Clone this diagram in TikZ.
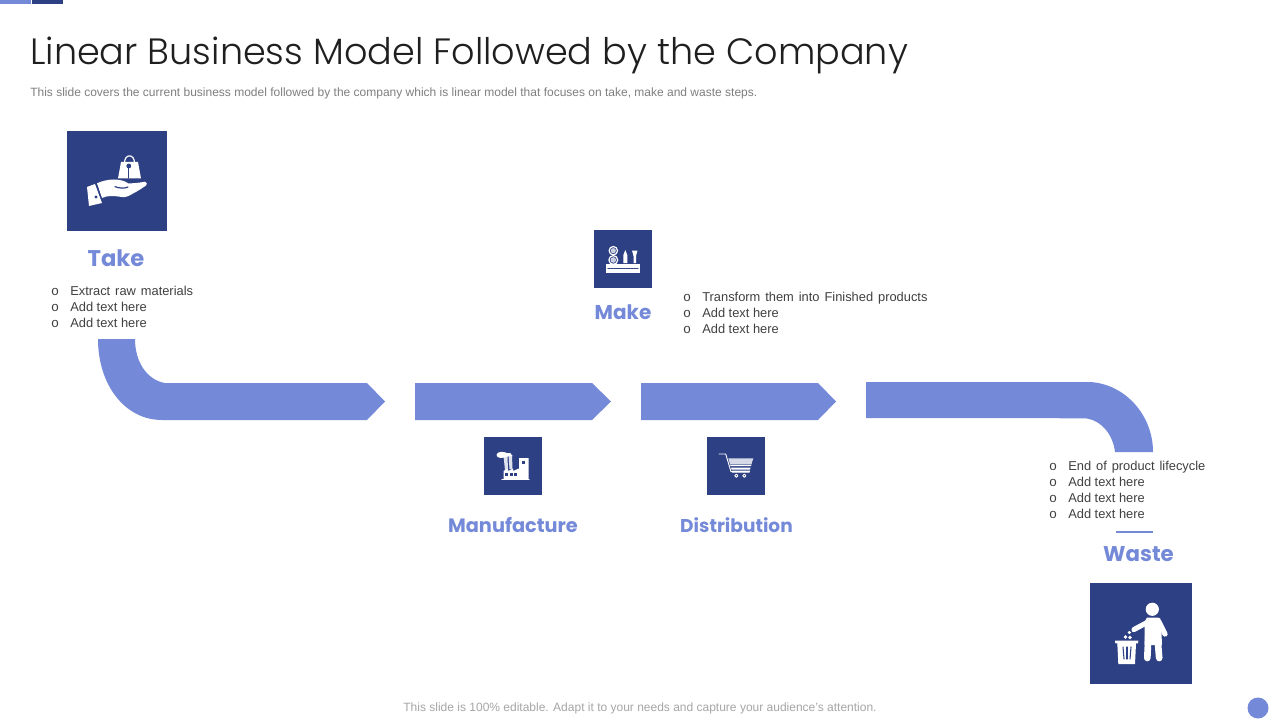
\documentclass[tikz,border=0pt]{standalone}
\usepackage{fontspec}
\setmainfont{Liberation Sans}
\newfontfamily\headfont{Poppins}
\newfontfamily\titlefont{Poppins Light}
\newfontfamily\bulfont{Liberation Mono}
\definecolor{lightb}{HTML}{748AD8}
\definecolor{darkb}{HTML}{2D4083}
\definecolor{bodyt}{HTML}{404040}
\definecolor{subt}{HTML}{7F7F7F}
\definecolor{foot}{HTML}{A6A6A6}
\newcommand{\widewords}[1]{\setlength{\spaceskip}{3.7pt}#1}
\tikzset{
 x=0.75pt,y=-0.75pt,
 band/.style={fill=lightb,draw=none},
 iconbox/.style={fill=darkb,draw=none},
 ico/.style={fill=white,draw=none},
 icoline/.style={draw=white,line cap=round,line join=round},
 cutline/.style={draw=darkb,line cap=round},
 heading/.style={anchor=base,inner sep=0pt,text=lightb},
 body/.style={anchor=base west,inner sep=0pt,text=bodyt,font=\fontsize{9.65pt}{11pt}\selectfont},
 bul/.style={anchor=base,inner sep=0pt,text=bodyt,font=\bulfont\fontsize{10pt}{11pt}\selectfont}
}
\begin{document}
\begin{tikzpicture}
\useasboundingbox (0,0) rectangle (1280,720);
\fill[white] (0,0) rectangle (1280,720);
% top tabs
\fill[lightb] (0,0) rectangle (30.5,4);
\fill[darkb] (32,0) rectangle (63,4);
% title
\node[anchor=base west,inner sep=0pt,text=black!88,font=\titlefont\fontsize{27.45pt}{32pt}\selectfont] (title) at (30,65) {Linear Business Model Followed by the Company};
\node[anchor=base west,inner sep=0pt,text=subt,font=\fontsize{9pt}{11pt}\selectfont] (sub) at (30,97) {This slide covers the current business model followed by the company which is linear model that focuses on take, make and waste steps.};
% bands
\path[band] (98,339) .. controls (98,385) and (125,420) .. (162,420) -- (367,420) -- (385,401.5) -- (367,383) -- (190,383) -- (165,383) .. controls (147,380) and (135,362) .. (135,339) -- cycle;
\path[band] (415,383) -- (592,383) -- (611,401.5) -- (592,420) -- (415,420) -- cycle;
\path[band] (641,383) -- (818,383) -- (836,401.5) -- (818,420) -- (641,420) -- cycle;
\path[band] (866,382) -- (1090,382) .. controls (1125,384) and (1153,415) .. (1153,452) -- (1115,452) .. controls (1113,435) and (1102,421) .. (1087,418.5) -- (1033,418) -- (866,418) -- cycle;
% icon boxes
\path[iconbox] (67,131) rectangle (167,231);
\path[iconbox] (594,230) rectangle (652,288);
\path[iconbox] (484,437) rectangle (542,495);
\path[iconbox] (707,437) rectangle (765,495);
\path[iconbox] (1090,583) rectangle (1192,684);
% take icon
\path[ico] (97,183.3) .. controls (102,181) and (108,179.5) .. (114,179.5) .. controls (120,179.5) and (125,181) .. (128,183.3) .. controls (134,183.5) and (141,182.5) .. (145,181.7) .. controls (147.5,182) and (147,185) .. (146,185.5) .. controls (141,189) and (137,191.5) .. (133,193.5) .. controls (129,196) and (126,197.5) .. (122,197) .. controls (115,196) and (108,195) .. (102,198) -- cycle;
\path[ico] (87,187) -- (95,184) -- (102,203) -- (89,206) -- cycle;
\path[ico] (121,162) -- (138,162) -- (141,178.5) -- (118,178.5) -- cycle;
\draw[icoline,line width=0.9pt] (124.5,163) .. controls (124.5,153.5) and (134.5,153.5) .. (134.5,163);
\fill[darkb] (128.8,166) circle (2.4);
\draw[cutline,line width=0.8pt] (128.8,167) -- (128.8,178);
\draw[cutline,line width=0.9pt] (115,186.7) .. controls (120,188.5) and (125,188.5) .. (128,187);
\fill[darkb] (96,197) circle (1.6);
\draw[cutline,line width=0.7pt] (96,183.5) -- (101.5,199);
% make icon
\path[ico] (606,264.3) rectangle (640,272.7);
\draw[cutline,line width=1pt,dash pattern=on 1.4pt off 0.8pt] (608,268.5) -- (638,268.5);
\draw[icoline,line width=0.9pt] (613.3,250.7) circle (4.2);
\draw[icoline,line width=0.9pt] (613.3,260) circle (4.4);
\fill[white,opacity=.75] (613.3,250.7) circle (2.6);
\fill[white,opacity=.75] (613.3,260) circle (2.8);
\path[ico] (623.3,263) -- (623.3,255) -- (625.3,250) -- (627.3,255) -- (627.3,263) -- cycle;
\path[ico] (632,250.5) -- (637.5,250.5) -- (636,256) -- (636,263) -- (633.5,263) -- (633.5,256) -- cycle;
% manufacture icon
\draw[icoline,line width=0.8pt] (502,479.3) -- (529,479.3);
\path[ico] (503.5,479) -- (503.5,471) -- (508,468.5) -- (508,471) -- (513,468.5) -- (513,471) -- (519,468.5) -- (519,458) -- (528.7,458) -- (528.7,479) -- cycle;
\fill[darkb] (505,472.5) rectangle (508,475.5);
\fill[darkb] (509.5,472.5) rectangle (512.5,475.5);
\fill[darkb] (514,472.5) rectangle (517,475.5);
\fill[darkb] (521.5,461) rectangle (525,464);
\path[ico,fill opacity=.85] (503.5,456) -- (507.5,456) -- (508,470) -- (505,470) -- cycle;
\path[ico,fill opacity=.85] (508.5,455) -- (512,455) -- (512.5,469) -- (509.5,469) -- cycle;
\path[ico] (496.5,454.5) .. controls (498,451) and (504,451.5) .. (507,453) .. controls (509,452) and (512,453.5) .. (512.5,456) .. controls (509,455) and (507,457.5) .. (504,457.5) .. controls (501,458.5) and (496.5,458) .. (496.5,454.5) -- cycle;
% distribution icon
\draw[icoline,line width=0.7pt] (719,454) -- (725.7,454) -- (731,471.7) -- (749,471.7);
\path[ico,fill opacity=.8] (728.3,458.3) -- (753.3,458.3) -- (751.5,464) -- (730,464) -- cycle;
\path[ico] (730,464.5) -- (751.5,464.5) -- (751,466) -- (730.5,466) -- cycle;
\path[ico] (731,467.5) -- (750.5,467.5) -- (750,469.5) -- (731.5,469.5) -- cycle;
\path[ico] (732,470.5) -- (750,470.5) -- (749.5,472.5) -- (732,472.5) -- cycle;
\draw[icoline,line width=0.7pt] (736.3,475.7) circle (1.6);
\draw[icoline,line width=0.7pt] (744.3,475.7) circle (1.6);
% waste icon
\fill[white] (1152.3,609.3) circle (6.6);
\path[ico] (1147,617.5) -- (1158,617.5) .. controls (1160,617.5) and (1161,619) .. (1161,622) -- (1162,645) -- (1144.5,645) -- (1144.5,622) -- cycle;
\draw[icoline,line width=5pt] (1148.5,632) -- (1147.3,658);
\draw[icoline,line width=5pt] (1157,632) -- (1159.2,658);
\draw[icoline,line width=3.8pt] (1148,622) -- (1134,629.5);
\draw[icoline,line width=4pt] (1159,622) -- (1165,634);
\path[ico] (1115,640.7) -- (1138.3,640.7) -- (1138,643.3) -- (1136,643.3) -- (1135,664) -- (1118.3,664) -- (1117.3,643.3) -- (1115.3,643.3) -- cycle;
\draw[cutline,line width=0.8pt] (1123,647) -- (1124,659);
\draw[cutline,line width=0.8pt] (1127,647) -- (1127,659);
\draw[cutline,line width=0.8pt] (1131,647) -- (1130,659);
\fill[white] (1125.5,637) circle (1.9);
\fill[white] (1130,637.5) circle (1.8);
\fill[white] (1129.3,632.5) circle (1.7);
\fill[white] (1133,631) circle (1.1);
% headings
\node[heading,font=\headfont\bfseries\fontsize{17pt}{20pt}\selectfont] (take) at (116,266) {Take};
\node[heading,font=\headfont\bfseries\fontsize{15pt}{20pt}\selectfont] (make) at (623,319) {Make};
\node[heading,font=\headfont\bfseries\fontsize{14.5pt}{20pt}\selectfont] (manu) at (513,532.5) {Manufacture};
\node[heading,font=\headfont\bfseries\fontsize{13.9pt}{20pt}\selectfont] (dist) at (736.5,532.5) {Distribution};
\node[heading,font=\headfont\bfseries\fontsize{16pt}{20pt}\selectfont] (waste) at (1138.5,561.5) {Waste};
\draw[draw=lightb,line width=1.5pt] (1116,531.5) -- (1153,531.5);
% lists
\node[bul] (b1) at (55,295) {o};
\node[body] (t1) at (70,295) {\widewords{Extract raw materials}};
\node[bul] (b2) at (55,311) {o};
\node[body] (t2) at (70,311) {Add text here};
\node[bul] (b3) at (55,327) {o};
\node[body] (t3) at (70,327) {Add text here};
\node[bul] (b4) at (687,301) {o};
\node[body] (t4) at (702,301) {\widewords{Transform them into Finished products}};
\node[bul] (b5) at (687,317) {o};
\node[body] (t5) at (702,317) {Add text here};
\node[bul] (b6) at (687,333) {o};
\node[body] (t6) at (702,333) {Add text here};
\node[bul] (b7) at (1053,470) {o};
\node[body] (t7) at (1068,470) {\widewords{End of product lifecycle}};
\node[bul] (b8) at (1053,486) {o};
\node[body] (t8) at (1068,486) {Add text here};
\node[bul] (b9) at (1053,502) {o};
\node[body] (t9) at (1068,502) {Add text here};
\node[bul] (b10) at (1053,518) {o};
\node[body] (t10) at (1068,518) {Add text here};
% footer
\node[anchor=base,inner sep=0pt,text=foot,font=\fontsize{9pt}{11pt}\selectfont] (footer) at (640,711.5) {This slide is 100\% editable. Adapt it to your needs and capture your audience's attention.};
\fill[lightb] (1258,708) circle (10.5);
\end{tikzpicture}
\end{document}
